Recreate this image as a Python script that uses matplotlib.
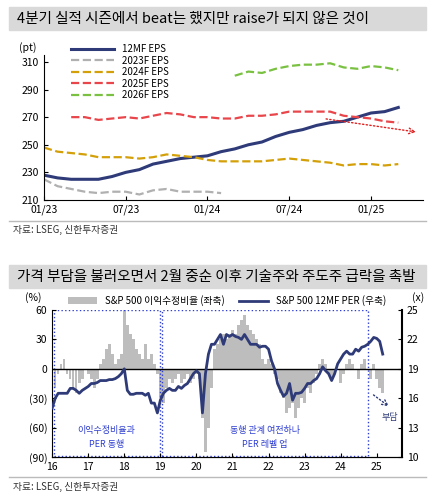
import matplotlib.pyplot as plt
import numpy as np
from matplotlib.patches import Rectangle

plt.rcParams['font.family'] = ['Noto Sans CJK KR', 'DejaVu Sans']

# ---- top chart data (monthly, index 0 = 01/23) ----
eps_12mf = [228, 226, 225, 225, 225, 227, 230, 232, 236, 238, 240, 241, 242, 245,
            247, 250, 252, 256, 259, 261, 264, 266, 267, 270, 273, 274, 277]
eps_2023 = [225, 220, 218, 216, 215, 216, 216, 214, 217, 218, 216, 216, 216, 215]
eps_2024 = [248, 245, 244, 243, 241, 241, 241, 240, 241, 243, 242, 241, 239, 238,
            238, 238, 238, 239, 240, 239, 238, 237, 235, 236, 236, 235, 236]
eps_2025 = [270, 270, 268, 269, 270, 269, 271, 273, 272, 270, 270, 269, 269, 271,
            271, 272, 274, 274, 274, 274, 271, 270, 269, 267, 266]
eps_2026 = [300, 303, 302, 305, 307, 308, 308, 309, 306, 305, 307, 306, 304]
top_ticks = ['01/23', '07/23', '01/24', '07/24', '01/25']

# ---- bottom chart data (monthly from 2016-01) ----
revision = [-30, -20, -5, 5, 10, -5, -10, -20, -25, -15, -10, 0,
            -5, -10, -20, -10, 5, 10, 20, 25, 15, 5, 10, 15,
            60, 45, 35, 30, 20, 15, 10, 25, 10, 15, 5, -5,
            -30, -35, -20, -10, -15, -10, -5, -15, -10, -5, -15, -10,
            -5, -10, -50, -85, -60, -20, 20, 25, 30, 35, 30, 35,
            40, 35, 45, 50, 55, 45, 40, 35, 30, 25, 10, 5,
            10, 5, -5, -10, -25, -30, -45, -40, -35, -50, -40, -30,
            -35, -20, -25, -15, -5, 5, 10, 5, -5, -10, -5, 0,
            -15, -5, 5, 10, 5, 0, -10, 5, 10, 0, -10, 5,
            -10, -20, -25]
per = [15, 16, 16.5, 16.5, 16.5, 16.5, 17, 17, 16.8, 16.5, 16.8, 17,
       17.2, 17.5, 17.5, 17.6, 17.8, 17.8, 17.8, 17.9, 17.9, 18, 18.2, 18.5,
       19, 16.8, 16.4, 16.4, 16.5, 16.5, 16.5, 16.3, 16.5, 15.5, 15.5, 14.5,
       15.8, 16.5, 16.8, 17, 16.8, 16.8, 17.2, 17, 17.3, 17.5, 18, 18.5,
       18.8, 18.5, 14.5, 18.5, 20.5, 21.5, 21.5, 22, 22.5, 21.5, 22.5, 22.3,
       22.5, 22.3, 22.2, 22, 22.5, 22, 21.5, 21.5, 21.5, 21.2, 21.3, 21.3,
       21, 19.8, 19, 17.5, 16.8, 16.2, 16.5, 17.5, 15.8, 16.5, 16.5, 16.6,
       17, 17.5, 17.5, 17.8, 18, 18.5, 19.2, 18.8, 18.5, 17.8, 18.5, 19.5,
       20, 20.5, 20.8, 20.5, 20.5, 21, 20.8, 21.2, 21.3, 21.5, 21.8, 22.2,
       22.1, 21.8, 20.5]
years = list(range(16, 26))

navy = '#2e3b78'
fig = plt.figure(figsize=(4.35, 5), dpi=100)

# banners
for y0 in (0.94, 0.424):
    fig.patches.append(Rectangle((0.02, y0), 0.96, 0.046, transform=fig.transFigure,
                                 color='#d9d9d9', zorder=0))
fig.text(0.04, 0.963, '4분기 실적 시즌에서 beat는 했지만 raise가 되지 않은 것이', fontsize=10.5,
         va='center', fontweight='medium')
fig.text(0.04, 0.447, '가격 부담을 불러오면서 2월 중순 이후 기술주와 주도주 급락을 촉발', fontsize=10.5,
         va='center', fontweight='medium')
for yl, ys in ((0.558, 0.54), (0.046, 0.026)):
    fig.add_artist(plt.Line2D([0.02, 0.98], [yl, yl], color='#bbbbbb', lw=1, transform=fig.transFigure))
    fig.text(0.03, ys, '자료: LSEG, 신한투자증권', fontsize=7, va='center', color='#333333')

# ---- top ----
ax = fig.add_axes([0.101, 0.6, 0.871, 0.29])
ax.plot(np.arange(len(eps_12mf)), eps_12mf, color=navy, lw=2.2, label='12MF EPS')
ax.plot(np.arange(len(eps_2023)), eps_2023, color='#b0b0b0', lw=1.6, ls='--', label='2023F EPS')
ax.plot(np.arange(len(eps_2024)), eps_2024, color='#d4a00a', lw=1.6, ls='--', label='2024F EPS')
ax.plot(np.arange(2, 2 + len(eps_2025)), eps_2025, color='#e8464b', lw=1.6, ls='--', label='2025F EPS')
ax.plot(np.arange(14, 14 + len(eps_2026)), eps_2026, color='#7ac142', lw=1.6, ls='--', label='2026F EPS')
ax.annotate('', xy=(27.5, 259), xytext=(20.5, 269),
            arrowprops=dict(arrowstyle='->', color='#e02020', ls=':', lw=1))
ax.set_xlim(0, 27.8)
ax.set_ylim(210, 315)
ax.set_yticks(range(210, 311, 20))
ax.set_xticks(range(0, 25, 6))
ax.set_xticklabels(top_ticks)
ax.tick_params(labelsize=7.5, length=3, direction='in')
for s in ('top', 'right'):
    ax.spines[s].set_visible(False)
ax.text(-0.02, 1.03, '(pt)', transform=ax.transAxes, fontsize=7.5, ha='right')
ax.legend(loc='upper left', bbox_to_anchor=(0.06, 1.1), frameon=False, fontsize=7,
          handlelength=4.5, labelspacing=0.15, borderaxespad=0)

# ---- bottom ----
bx = fig.add_axes([0.12, 0.086, 0.804, 0.294])
t = 16 + np.arange(len(revision)) / 12
bx.bar(t, revision, width=0.07, color='#bdbdbd', label='S&P 500 이익수정비율 (좌축)')
bx.axhline(0, color='black', lw=1)
bx.set_ylim(-90, 60)
bx.set_yticks(range(-90, 61, 30))
bx.set_yticklabels(['(90)', '(60)', '(30)', '0', '30', '60'])
bx.set_xlim(16, 25.7)
bx.set_xticks(years)
bx.set_xticklabels([str(y) for y in years])
bx.tick_params(labelsize=7.5, length=3, direction='in')
bx.spines['top'].set_visible(False)
bx.spines['right'].set_visible(False)
bx.add_patch(Rectangle((16.05, -89), 2.93, 148.5, fill=False, ec='#2f3fd0', ls=':', lw=1))
bx.add_patch(Rectangle((19.05, -89), 5.7, 148.5, fill=False, ec='#2f3fd0', ls=':', lw=1))
bx.text(17.5, -65, '이익수정비율과', color='#2f3fd0', fontsize=6.5, ha='center')
bx.text(17.5, -80, 'PER 동행', color='#2f3fd0', fontsize=6.5, ha='center')
bx.text(21.9, -65, '동행 관계 여전하나', color='#2f3fd0', fontsize=6.5, ha='center')
bx.text(21.9, -80, 'PER 레벨 업', color='#2f3fd0', fontsize=6.5, ha='center')
bx.annotate('', xy=(25.4, -40), xytext=(24.85, -25),
            arrowprops=dict(arrowstyle='->', color=navy, ls=':', lw=1))
bx.text(25.35, -52, '부담', color=navy, fontsize=6.5, ha='center')
bx.text(-0.03, 1.06, '(%)', transform=bx.transAxes, fontsize=7.5, ha='right')

rx = bx.twinx()
rx.plot(t, per, color=navy, lw=2, label='S&P 500 12MF PER (우축)')
rx.set_ylim(10, 25)
rx.set_yticks(range(10, 26, 3))
rx.tick_params(labelsize=7.5, length=3, direction='in')
rx.spines['top'].set_visible(False)
rx.spines['left'].set_visible(False)
rx.spines['right'].set_linewidth(1.5)
rx.text(1.03, 1.06, '(x)', transform=rx.transAxes, fontsize=7.5, ha='left')
h1, l1 = bx.get_legend_handles_labels()
h2, l2 = rx.get_legend_handles_labels()
bx.legend(h1 + h2, l1 + l2, loc='lower center', bbox_to_anchor=(0.5, 1.0), ncol=2,
          frameon=False, fontsize=7, handlelength=3, columnspacing=1.5, borderaxespad=0)

fig.savefig('out.png', dpi=100)
